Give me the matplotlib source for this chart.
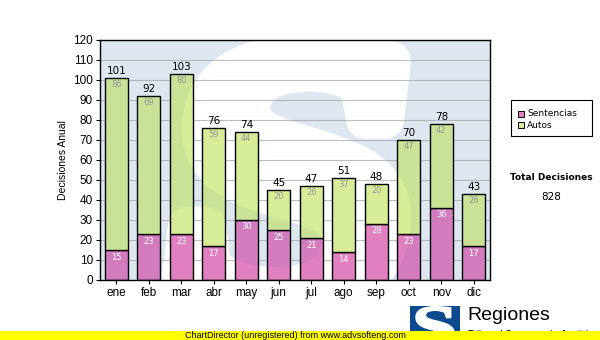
import numpy as np
import matplotlib
matplotlib.use("Agg")
import matplotlib.pyplot as plt
from matplotlib.patches import Rectangle, PathPatch
from matplotlib.textpath import TextPath
from matplotlib.font_manager import FontProperties
from matplotlib.transforms import Affine2D
from matplotlib.colors import to_rgb

# --- data ---
meses = ["ene", "feb", "mar", "abr", "may", "jun", "jul", "ago", "sep", "oct", "nov", "dic"]
sentencias = [15, 23, 23, 17, 30, 25, 21, 14, 28, 23, 36, 17]
autos = [86, 69, 80, 59, 44, 20, 26, 37, 20, 47, 42, 26]
series_names = ["Sentencias", "Autos"]
titulo_total = "Total Decisiones"
ylabel = "Decisiones Anual"
y_ticks = list(range(0, 121, 10))

totales = [s + a for s, a in zip(sentencias, autos)]
total_general = sum(totales)

# colours
verde = "#d6ec96"
rosa = "#e080c0"
azul_logo = "#0b4a8f"
arial = "Liberation Sans"
tahoma = "DejaVu Sans"

W, H = 600, 340
PW, PH = 390, 240          # plot area in pixels


def fit_glyph(char, x0, x1, y0, y1, shear=0.0, family="Liberation Serif"):
    """Bold glyph outline stretched into the box (x0..x1, y0..y1), optionally slanted."""
    tp = TextPath((0, 0), char, size=100, prop=FontProperties(family=family, weight="bold"))
    ext = tp.get_extents()
    tr = (Affine2D().translate(-ext.x0, -ext.y0)
          .scale((x1 - x0) / ext.width, (y1 - y0) / ext.height)
          .skew(np.arctan(shear), 0)
          .translate(x0, y0))
    return tr.transform_path(tp)


# watermark mask: 1 on the blue panel, 0 inside a heavy slanted "S"
s_px = fit_glyph("S", 78, 282, -25, 226, shear=0.12)
mfig = plt.figure(figsize=(PW / 100, PH / 100), dpi=100)
max_ = mfig.add_axes([0, 0, 1, 1])
max_.set_xlim(0, PW)
max_.set_ylim(0, PH)
max_.axis("off")
max_.add_patch(PathPatch(s_px, facecolor="black", edgecolor="black", linewidth=28,
                         joinstyle="round"))
mfig.canvas.draw()
mask = np.asarray(mfig.canvas.buffer_rgba())[:, :, 0].astype(float) / 255.0
plt.close(mfig)


def tint(alpha):
    img = np.zeros(mask.shape + (4,))
    img[..., :3] = to_rgb(azul_logo)
    img[..., 3] = alpha * mask
    return img


fig = plt.figure(figsize=(W / 100, H / 100), dpi=100)
fig.patch.set_facecolor("white")

# --- main plot area ---
ax = fig.add_axes([100 / W, 60 / H, PW / W, PH / H])
ax.set_facecolor("white")
x = np.arange(len(meses))
extent = (-0.5, len(meses) - 0.5, 0, 120)

ax.imshow(tint(0.075), extent=extent, aspect="auto", interpolation="bilinear", zorder=0.2)
ax.set_axisbelow(True)
ax.yaxis.grid(True, color="#bdbdbd", linewidth=0.8)

bar_w = 0.72
ax.bar(x, sentencias, bar_w, color=rosa, edgecolor="black", linewidth=1.0, zorder=2)
ax.bar(x, autos, bar_w, bottom=sentencias, color=verde, edgecolor="black", linewidth=1.0, zorder=2)

ax.imshow(tint(0.06), extent=extent, aspect="auto", interpolation="bilinear", zorder=2.5)
ax.set_xlim(extent[0], extent[1])
ax.set_ylim(extent[2], extent[3])

ax.set_yticks(y_ticks)
ax.set_xticks(x)
ax.set_xticklabels(meses)
for lab in ax.get_xticklabels() + ax.get_yticklabels():
    lab.set_fontfamily(arial)
    lab.set_fontsize(8.5)
ax.tick_params(axis="both", direction="out", length=3, width=0.8, pad=2, color="black")
for sp in ax.spines.values():
    sp.set_linewidth(1.0)
    sp.set_zorder(5)
ax.set_ylabel(ylabel, fontfamily=arial, fontsize=7.5, labelpad=4)

# value labels
for i in x:
    ax.text(i, totales[i] + 1, str(totales[i]), ha="center", va="bottom",
            fontfamily=tahoma, fontsize=7.5, color="black", zorder=6)
    ax.text(i, totales[i] - 3.5, str(autos[i]), ha="center", va="center",
            fontfamily=tahoma, fontsize=6, color="#999999", zorder=6)
    ax.text(i, sentencias[i] - 3.5, str(sentencias[i]), ha="center", va="center",
            fontfamily=tahoma, fontsize=6, color="white", zorder=6)

# --- overlay in pixel coordinates for legend, totals and footer ---
ov = fig.add_axes([0, 0, 1, 1], zorder=10)
ov.set_xlim(0, W)
ov.set_ylim(H, 0)
ov.axis("off")
ov.patch.set_alpha(0)

ov.add_patch(Rectangle((511, 100), 81, 36, facecolor="white", edgecolor="black", linewidth=0.8))
for k, (name, col) in enumerate(zip(series_names, [rosa, verde])):
    yy = 114 + k * 11
    ov.add_patch(Rectangle((517.5, yy - 3.2), 6.5, 6.5, facecolor=col, edgecolor="black", linewidth=0.7))
    ov.text(527, yy, name, ha="left", va="center", fontfamily=tahoma, fontsize=6.5)

ov.text(551, 178, titulo_total, ha="center", va="center", fontfamily=tahoma,
        fontsize=6.5, fontweight="bold")
ov.text(551, 197, str(total_general), ha="center", va="center", fontfamily=tahoma, fontsize=7.5)

# logo
ov.add_patch(Rectangle((410, 306), 50, 40, facecolor=azul_logo, edgecolor="none", zorder=1))
logo_s = fit_glyph("S", 416, 454, 307, 346)
logo_s = Affine2D().scale(1, -1).translate(0, 307 + 346).transform_path(logo_s)
ov.add_patch(PathPatch(logo_s, facecolor="white", edgecolor="white", linewidth=1.5, zorder=2))
ov.text(467, 316, "Regiones", ha="left", va="center", fontfamily=arial, fontsize=14, zorder=2)
ov.text(468, 335, "Tribunal Supremo de Justicia", ha="left", va="center",
        fontfamily=arial, fontsize=7, zorder=2)

# footer strip
ov.add_patch(Rectangle((0, 331), W, 9, facecolor="#ffff00", edgecolor="none", zorder=3))
ov.text(295, 335.5, "ChartDirector (unregistered) from www.advsofteng.com", ha="center",
        va="center", fontfamily=arial, fontsize=6.5, zorder=4)

fig.savefig("out.png", dpi=100)
